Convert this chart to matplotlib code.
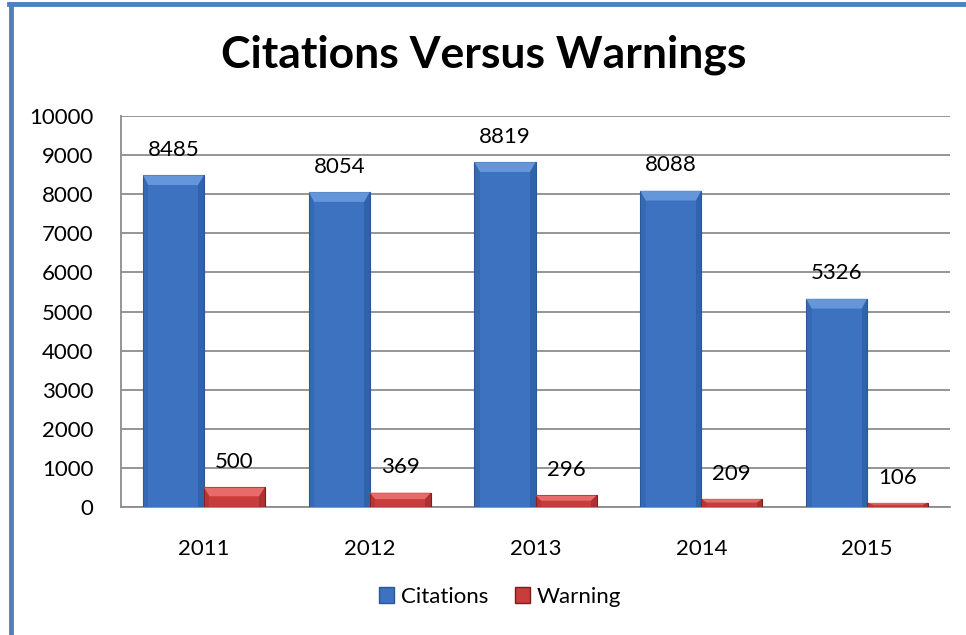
import matplotlib
matplotlib.use("Agg")
import matplotlib.pyplot as plt
from matplotlib.patches import Polygon, Rectangle
from matplotlib.lines import Line2D
import numpy as np

years = ["2011", "2012", "2013", "2014", "2015"]
citations = [8485, 8054, 8819, 8088, 5326]
warnings = [500, 369, 296, 209, 106]
yticks = list(range(0, 10001, 1000))

plt.rcParams['font.family'] = ['Lato', 'DejaVu Sans']

fig = plt.figure(figsize=(9.66, 6.35), dpi=100)
ax = fig.add_axes([121/966, 1-507/635, (950-121)/966, (507-116)/635])

x = np.arange(len(years))
w = 0.368
blue_face, blue_edge, blue_light, blue_dark = "#3c72c0", "#2b5797", "#6fa0e0", "#2a5a9c"
red_face, red_edge, red_light, red_dark = "#c83c3c", "#7a1e1e", "#f07878", "#9e2a2a"

b1 = ax.bar(x - w/2, citations, w, color=blue_face, edgecolor=blue_edge, linewidth=0.8, zorder=3)
b2 = ax.bar(x + w/2, warnings, w, color=red_face, edgecolor=red_edge, linewidth=0.8, zorder=3)

# bevel decoration derived from bar geometry
def bevel(bars, light, dark):
    for r in bars:
        x0, y0 = r.get_x(), r.get_y()
        bw, bh = r.get_width(), r.get_height()
        dx = bw * 0.09
        dy = min(bh * 0.45, 250)
        top = [(x0, y0+bh), (x0+bw, y0+bh), (x0+bw-dx, y0+bh-dy), (x0+dx, y0+bh-dy)]
        ax.add_patch(Polygon(top, closed=True, color=light, alpha=0.8, zorder=4, lw=0))
        right = [(x0+bw, y0+bh), (x0+bw, y0), (x0+bw-dx, y0), (x0+bw-dx, y0+bh-dy)]
        ax.add_patch(Polygon(right, closed=True, color=dark, alpha=0.6, zorder=4, lw=0))
        left = [(x0, y0+bh), (x0, y0), (x0+dx, y0), (x0+dx, y0+bh-dy)]
        ax.add_patch(Polygon(left, closed=True, color=dark, alpha=0.35, zorder=4, lw=0))

bevel(b1, blue_light, blue_dark)
bevel(b2, red_light, red_dark)

for xi, v in zip(x - w/2, citations):
    ax.annotate(str(v), (xi, v), xytext=(0, 11), textcoords="offset points",
                ha="center", va="bottom", fontsize=16, color="black", zorder=5)
for xi, v in zip(x + w/2, warnings):
    ax.annotate(str(v), (xi, v), xytext=(0, 11), textcoords="offset points",
                ha="center", va="bottom", fontsize=16, color="black", zorder=5)

ax.set_xlim(-0.5, len(years) - 0.5)
ax.set_ylim(0, 10000)
ax.set_yticks(yticks)
ax.set_yticklabels([str(t) for t in yticks], fontsize=16)
ax.set_xticks(x)
ax.set_xticklabels(years, fontsize=16)
ax.tick_params(axis='y', length=0, pad=20)
ax.tick_params(axis='x', length=0, pad=23)
ax.yaxis.grid(True, color="#8c8c8c", linewidth=1.3, zorder=0)
ax.set_axisbelow(True)
for s in ["top", "right"]:
    ax.spines[s].set_visible(False)
ax.spines["left"].set_color("#8c8c8c")
ax.spines["bottom"].set_color("#8c8c8c")
ax.spines["left"].set_linewidth(1.3)
ax.spines["bottom"].set_linewidth(1.3)

fig.text(484/966, 1-55/635, "Citations Versus Warnings", ha="center", va="center",
         fontsize=32, fontweight="bold")

handles = [Rectangle((0, 0), 1, 1, facecolor=blue_face, edgecolor=blue_edge),
           Rectangle((0, 0), 1, 1, facecolor=red_face, edgecolor=red_edge)]
fig.legend(handles, ["Citations", "Warning"], loc="center", bbox_to_anchor=(500/966, 1-597/635),
           ncol=2, frameon=False, fontsize=16, handlelength=0.7, handleheight=0.7,
           handletextpad=0.3, columnspacing=1.2)

# outer border (left and top)
fig.add_artist(Line2D([11/966, 11/966], [0, 1-4/635], transform=fig.transFigure,
                      color="#4f81bd", linewidth=3.5))
fig.add_artist(Line2D([9/966, 1], [1-4/635, 1-4/635], transform=fig.transFigure,
                      color="#4f81bd", linewidth=3.5))

fig.savefig("out.png", dpi=100)
